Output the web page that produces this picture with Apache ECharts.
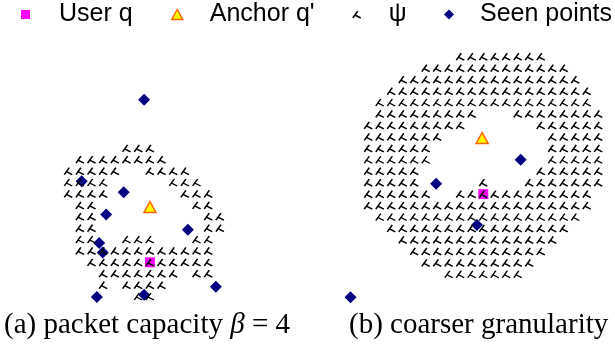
<!DOCTYPE html>
<html>
<head>
<meta charset="utf-8">
<script src="https://cdn.jsdelivr.net/npm/echarts@6/dist/echarts.min.js"></script>
<style>
  html, body { margin: 0; padding: 0; background: #fff; }
  #chart { width: 615px; height: 345px; }
</style>
</head>
<body>
<div id="chart"></div>
<script>
// psi cells: for each grid row, the column indices that hold a mark
const psiRowsA = [
  [5, 6, 7],
  [1, 2, 3, 4, 5, 6, 7, 8],
  [0, 1, 2, 3, 4, 7, 8, 9, 10],
  [0, 1, 2, 3, 9, 10, 11],
  [0, 1, 2, 3, 10, 11, 12],
  [1, 2, 11, 12],
  [1, 2, 12, 13],
  [1, 2, 12, 13],
  [1, 2, 5, 6, 7, 11, 12],
  [1, 2, 3, 4, 5, 6, 7, 8, 9, 10, 11, 12],
  [2, 3, 4, 5, 6, 7, 8, 9, 10, 11, 12],
  [3, 4, 5, 6, 7, 8, 9, 11, 12],
  [3, 5, 6, 7, 8],
  [6, 7]
];
const psiRowsB = [
  [8, 9, 10, 11, 12, 13, 14, 15],
  [5, 6, 7, 8, 9, 10, 11, 12, 13, 14, 15, 16, 17],
  [3, 4, 5, 6, 7, 8, 9, 10, 11, 12, 13, 14, 15, 16, 17, 18],
  [2, 3, 4, 5, 6, 7, 8, 9, 10, 11, 12, 13, 14, 15, 16, 17, 18, 19],
  [1, 2, 3, 4, 5, 6, 7, 8, 9, 10, 11, 12, 13, 14, 15, 16, 17, 18, 19],
  [1, 2, 3, 4, 5, 6, 7, 8, 9, 13, 14, 15, 16, 17, 18, 19, 20],
  [0, 1, 2, 3, 4, 5, 6, 7, 8, 15, 16, 17, 18, 19, 20],
  [0, 1, 2, 3, 4, 5, 6, 16, 17, 18, 19, 20],
  [0, 1, 2, 3, 4, 5, 16, 17, 18, 19, 20],
  [0, 1, 2, 3, 4, 5, 16, 17, 18, 19, 20],
  [0, 1, 2, 3, 4, 15, 16, 17, 18, 19, 20],
  [0, 1, 2, 3, 4, 10, 14, 15, 16, 17, 18, 19, 20],
  [0, 1, 2, 3, 4, 5, 8, 9, 10, 11, 12, 13, 14, 15, 16, 17, 18, 19],
  [0, 1, 2, 3, 4, 5, 6, 7, 8, 9, 10, 11, 12, 13, 14, 15, 16, 17, 18, 19],
  [1, 2, 3, 4, 5, 6, 7, 8, 9, 10, 11, 12, 13, 14, 15, 16, 17, 18],
  [2, 3, 4, 5, 6, 7, 8, 9, 10, 11, 12, 13, 14, 15, 16, 17],
  [3, 4, 5, 6, 7, 8, 9, 10, 11, 12, 13, 14, 15, 16],
  [4, 5, 6, 7, 8, 9, 10, 11, 12, 13, 14, 15],
  [5, 6, 7, 8, 9, 10, 11, 12, 13, 14],
  [7, 8, 9, 10, 11, 12, 13]
];

// [column, row] in the same grid units
const seenA = [[6.5, -4.25], [1.15, 2.9], [4.75, 3.85], [3.25, 5.8], [2.65, 8.3],
  [2.95, 9.15], [2.45, 13.05], [6.5, 12.85], [10.25, 7.15], [12.65, 12.15]];
const userA = [[7, 10]];
const anchorA = [[7, 5.15]];

const seenB = [[5.9, 11.1], [9.45, 14.7], [13.25, 9.0], [-1.55, 21.0]];
const userB = [[10, 12]];
const anchorB = [[9.9, 7.1]];

const legendNames = ['User q', "Anchor q'", 'ψ', 'Seen points'];
const captions = ['(a) packet capacity {m|β} = 4', '(b) coarser granularity'];

const PSI_PATH = 'path://M5,0 L0,7 M2.1,4 L8,7';

const chart = echarts.init(document.getElementById('chart'));

const toPoints = rows => rows.flatMap((cols, r) => cols.map(c => [c, r]));

function panelSeries(idx, psiRows, seen, user, anchor) {
  return [
    {
      name: legendNames[3], type: 'scatter', xAxisIndex: idx, yAxisIndex: idx,
      data: seen, symbol: 'diamond', symbolSize: 12, z: 2,
      itemStyle: { color: '#000080', opacity: 1 }
    },
    {
      name: legendNames[0], type: 'scatter', xAxisIndex: idx, yAxisIndex: idx,
      data: user, symbol: 'rect', symbolSize: 10, z: 3,
      itemStyle: { color: '#ff00ff', opacity: 1 }
    },
    {
      name: legendNames[1], type: 'scatter', xAxisIndex: idx, yAxisIndex: idx,
      data: anchor, symbol: 'triangle', symbolSize: [12, 11], z: 3,
      itemStyle: { color: '#ffff00', borderColor: '#ff6600', borderWidth: 1.5, opacity: 1 }
    },
    {
      name: legendNames[2], type: 'scatter', xAxisIndex: idx, yAxisIndex: idx,
      data: toPoints(psiRows), symbol: PSI_PATH, symbolSize: [8, 7], z: 4,
      itemStyle: { color: 'rgba(0,0,0,0)', borderColor: '#000', borderWidth: 1.5, opacity: 1 }
    }
  ];
}

const legendBase = {
  padding: 0, top: 2, selectedMode: false,
  textStyle: { fontFamily: 'Liberation Sans', fontSize: 25, color: '#000' }
};
const captionStyle = {
  fontFamily: 'Liberation Serif', fontSize: 29, fontWeight: 'normal', color: '#000',
  rich: {
    m: { fontFamily: 'Liberation Serif', fontSize: 29, fontStyle: 'italic' }
  }
};

chart.setOption({
  animation: false,
  backgroundColor: '#fff',
  title: [
    { text: captions[0], left: 4, top: 311, padding: 0, textStyle: captionStyle },
    { text: captions[1], left: 349, top: 311, padding: 0, textStyle: captionStyle }
  ],
  legend: [
    Object.assign({}, legendBase, { left: 21, itemWidth: 9, itemHeight: 9, data: [legendNames[0]],
      textStyle: Object.assign({}, legendBase.textStyle, { padding: [0, 0, 0, 24] }) }),
    Object.assign({}, legendBase, { left: 171, itemWidth: 11, itemHeight: 10, data: [legendNames[1]],
      itemStyle: { borderWidth: 1.5 },
      textStyle: Object.assign({}, legendBase.textStyle, { padding: [0, 0, 0, 22] }) }),
    Object.assign({}, legendBase, { left: 352, itemWidth: 8, itemHeight: 7, data: [legendNames[2]],
      itemStyle: { borderWidth: 1.5 },
      textStyle: Object.assign({}, legendBase.textStyle, { padding: [0, 0, 0, 23] }) }),
    Object.assign({}, legendBase, { left: 444, itemWidth: 10, itemHeight: 10, data: [legendNames[3]],
      textStyle: Object.assign({}, legendBase.textStyle, { padding: [0, 0, 0, 21] }) })
  ],
  grid: [
    { left: 56.6, top: 79.9, width: 175, height: 228 },
    { left: 345.3, top: 45.25, width: 264.5, height: 263.35 }
  ],
  xAxis: [
    { gridIndex: 0, type: 'value', min: -1, max: 14, show: false },
    { gridIndex: 1, type: 'value', min: -2, max: 21, show: false }
  ],
  yAxis: [
    { gridIndex: 0, type: 'value', min: -6, max: 14, inverse: true, show: false },
    { gridIndex: 1, type: 'value', min: -1, max: 22, inverse: true, show: false }
  ],
  series: [].concat(
    panelSeries(0, psiRowsA, seenA, userA, anchorA),
    panelSeries(1, psiRowsB, seenB, userB, anchorB)
  )
});

window.addEventListener('resize', () => chart.resize());
</script>
</body>
</html>
